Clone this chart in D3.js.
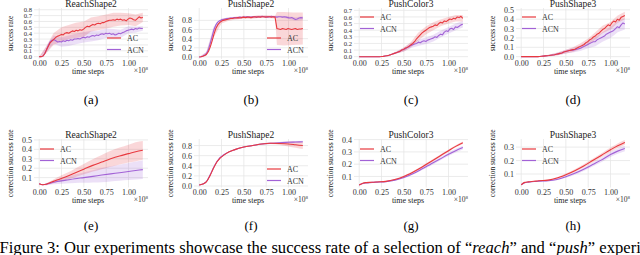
<!DOCTYPE html>
<html><head><meta charset="utf-8">
<script src="https://cdn.jsdelivr.net/npm/d3@7"></script>
<style>
body{margin:0;background:#fff;}
svg{display:block;}
svg text{font-family:"Liberation Serif","Times New Roman",serif;}
</style>
</head><body>
<svg id="c" width="640" height="255"></svg>
<script>
// ---------- data ----------
const titles = ["ReachShape2","PushShape2","PushColor3","PushShape3","ReachShape2","PushShape2","PushColor3","PushShape3"];
const subLabels = ["(a)","(b)","(c)","(d)","(e)","(f)","(g)","(h)"];
const seriesNames = ["AC","ACN"];
const xTickVals = [0,0.25,0.5,0.75,1.0];
const caption = ["Figure 3: Our experiments showcase the success rate of a selection of \u201c","reach","\u201d and \u201c","push","\u201d experiments"];

// time steps (x 1e8) of the logged evaluations, top row
const tFine = d3.range(57).map(i => i * 1.16 / 56);
const tBand = [0,0.08,0.16,0.25,0.33,0.41,0.5,0.58,0.66,0.75,0.83,0.91,1.0,1.08,1.16];
const tBandB = [0,0.08,0.16,0.25,0.33,0.41,0.5,0.58,0.66,0.75,0.85,0.87,0.95,1.05,1.16];
// bottom row
const t2 = [0,0.04,0.08,0.12,0.16,0.2,0.3,0.4,0.5,0.6,0.7,0.8,0.9,1.0,1.08,1.16];

// (a) ReachShape2 success rate
const aAC = [0,0,0.01,0.05,0.12,0.18,0.24,0.27,0.30,0.33,0.35,0.36,0.38,0.37,0.40,0.41,0.40,0.42,0.44,0.43,0.45,0.44,0.46,0.45,0.47,0.50,0.52,0.51,0.53,0.55,0.54,0.56,0.57,0.56,0.58,0.58,0.60,0.61,0.62,0.62,0.63,0.62,0.64,0.63,0.64,0.62,0.63,0.61,0.64,0.66,0.65,0.63,0.62,0.65,0.68,0.66,0.67];
const aACN = [0,0,0.01,0.05,0.12,0.20,0.26,0.28,0.29,0.27,0.25,0.26,0.25,0.27,0.26,0.28,0.27,0.29,0.28,0.30,0.30,0.31,0.30,0.32,0.33,0.32,0.34,0.33,0.35,0.36,0.35,0.37,0.36,0.38,0.39,0.38,0.40,0.39,0.40,0.38,0.39,0.37,0.38,0.40,0.39,0.41,0.42,0.44,0.45,0.46,0.47,0.46,0.48,0.47,0.49,0.48,0.48];
const aACLo = [0,0.06,0.2,0.26,0.3,0.32,0.34,0.43,0.45,0.48,0.51,0.53,0.54,0.52,0.59];
const aACHi = [0,0.18,0.4,0.5,0.54,0.58,0.6,0.67,0.69,0.72,0.75,0.75,0.74,0.72,0.75];
const aACNLo = [0,0.07,0.22,0.17,0.18,0.21,0.24,0.26,0.28,0.32,0.31,0.32,0.40,0.41,0.44];
const aACNHi = [0,0.17,0.36,0.33,0.36,0.39,0.42,0.44,0.44,0.48,0.47,0.46,0.52,0.51,0.52];

// (b) PushShape2 success rate
const bAC = [0,0.005,0.015,0.03,0.06,0.12,0.22,0.35,0.5,0.62,0.7,0.75,0.78,0.8,0.81,0.82,0.83,0.84,0.84,0.85,0.85,0.86,0.85,0.86,0.87,0.86,0.87,0.87,0.86,0.87,0.88,0.87,0.88,0.87,0.88,0.88,0.87,0.88,0.88,0.87,0.88,0.87,0.62,0.61,0.6,0.62,0.61,0.6,0.62,0.61,0.6,0.61,0.62,0.6,0.61,0.61,0.62];
const bACN = [0,0.005,0.02,0.04,0.08,0.16,0.30,0.45,0.60,0.70,0.76,0.79,0.81,0.82,0.83,0.84,0.84,0.85,0.85,0.86,0.86,0.86,0.87,0.86,0.87,0.87,0.88,0.87,0.87,0.88,0.88,0.87,0.88,0.88,0.89,0.88,0.88,0.87,0.88,0.89,0.88,0.88,0.87,0.88,0.88,0.87,0.88,0.87,0.86,0.85,0.86,0.84,0.82,0.83,0.85,0.86,0.85];
const bACLo = [0,0.02,0.42,0.73,0.79,0.82,0.84,0.83,0.85,0.85,0.84,0.26,0.25,0.26,0.27];
const bACHi = [0,0.10,0.58,0.83,0.87,0.88,0.9,0.89,0.91,0.91,0.9,0.98,0.98,0.97,0.97];
const bACNLo = [0,0.05,0.54,0.78,0.82,0.84,0.85,0.85,0.86,0.86,0.86,0.86,0.83,0.79,0.81];
const bACNHi = [0,0.11,0.66,0.84,0.86,0.88,0.89,0.89,0.9,0.9,0.9,0.9,0.89,0.87,0.89];

// (c) PushColor3 success rate
const cAC = [0,0,0,0,0,0,0,0,0,0,0,0,0.002,0.005,0.01,0.015,0.02,0.03,0.04,0.05,0.06,0.07,0.08,0.10,0.11,0.13,0.14,0.16,0.18,0.20,0.23,0.27,0.30,0.33,0.36,0.38,0.40,0.42,0.44,0.45,0.46,0.48,0.47,0.50,0.52,0.51,0.54,0.53,0.55,0.57,0.56,0.58,0.57,0.60,0.59,0.61,0.58];
const cACN = [0,0,0,0,0,0,0,0,0,0,0,0,0.002,0.005,0.01,0.015,0.02,0.03,0.04,0.05,0.06,0.07,0.08,0.10,0.11,0.12,0.14,0.15,0.17,0.18,0.19,0.20,0.22,0.21,0.23,0.24,0.23,0.25,0.26,0.27,0.28,0.30,0.29,0.32,0.34,0.33,0.37,0.39,0.38,0.42,0.43,0.41,0.45,0.44,0.46,0.48,0.49];
const cACLo = [0,0,0,0.002,0.015,0.045,0.08,0.14,0.24,0.34,0.40,0.46,0.50,0.53,0.53];
const cACHi = [0,0,0,0.002,0.025,0.075,0.14,0.22,0.36,0.46,0.52,0.56,0.60,0.63,0.63];
const cACNLo = [0,0,0,0.002,0.015,0.045,0.08,0.13,0.16,0.19,0.23,0.29,0.35,0.4,0.44];
const cACNHi = [0,0,0,0.002,0.025,0.075,0.14,0.21,0.26,0.29,0.33,0.39,0.45,0.5,0.54];

// (d) PushShape3 success rate
const dAC = [0,0,0,0,0,0,0,0,0,0,0.002,0.004,0.006,0.008,0.01,0.012,0.015,0.018,0.02,0.025,0.03,0.035,0.04,0.05,0.055,0.06,0.065,0.07,0.075,0.08,0.09,0.10,0.11,0.12,0.13,0.15,0.16,0.18,0.19,0.21,0.22,0.24,0.25,0.27,0.29,0.30,0.32,0.34,0.33,0.36,0.38,0.37,0.40,0.39,0.42,0.43,0.44];
const dACN = [0,0,0,0,0,0,0,0,0,0,0.002,0.004,0.006,0.008,0.01,0.012,0.015,0.018,0.02,0.025,0.03,0.035,0.04,0.05,0.055,0.06,0.065,0.07,0.07,0.075,0.08,0.085,0.09,0.10,0.11,0.12,0.13,0.14,0.15,0.16,0.16,0.18,0.19,0.20,0.21,0.22,0.24,0.25,0.26,0.27,0.28,0.30,0.32,0.31,0.34,0.36,0.35];
const dACLo = [0,0,0,0.001,0.005,0.015,0.035,0.05,0.08,0.125,0.18,0.25,0.29,0.36,0.40];
const dACHi = [0,0,0,0.011,0.025,0.045,0.075,0.1,0.14,0.195,0.26,0.33,0.37,0.44,0.48];
const dACNLo = [0,0,0,0.001,0.005,0.015,0.035,0.045,0.06,0.09,0.11,0.16,0.2,0.26,0.29];
const dACNHi = [0,0,0,0.011,0.025,0.045,0.075,0.095,0.12,0.17,0.21,0.26,0.32,0.38,0.41];

// (e)-(h) correction success rate: mean and spread
const eAC = [0.035,0.025,0.03,0.045,0.06,0.075,0.11,0.15,0.19,0.23,0.265,0.3,0.33,0.355,0.375,0.39];
const eACsd = [0.005,0.005,0.01,0.015,0.02,0.025,0.035,0.045,0.055,0.065,0.075,0.085,0.09,0.095,0.1,0.1];
const eACN = [0.035,0.025,0.03,0.04,0.05,0.058,0.073,0.088,0.1,0.113,0.127,0.14,0.152,0.165,0.175,0.185];
const eACNsd = [0.005,0.005,0.01,0.015,0.02,0.025,0.035,0.045,0.055,0.065,0.075,0.08,0.085,0.09,0.095,0.1];
const fAC = [0.02,0.04,0.08,0.2,0.35,0.48,0.64,0.72,0.77,0.8,0.83,0.845,0.84,0.83,0.815,0.8];
const fACsd = [0.005,0.01,0.01,0.01,0.01,0.01,0.01,0.01,0.01,0.01,0.01,0.015,0.03,0.05,0.06,0.07];
const fACN = [0.02,0.04,0.085,0.21,0.36,0.49,0.645,0.72,0.77,0.8,0.83,0.845,0.855,0.865,0.87,0.875];
const fACNsd = [0.005,0.01,0.01,0.01,0.01,0.01,0.01,0.01,0.01,0.01,0.01,0.01,0.015,0.02,0.02,0.02];
const gAC = [0.03,0.045,0.05,0.052,0.053,0.055,0.06,0.075,0.1,0.135,0.175,0.22,0.265,0.31,0.345,0.375];
const gACsd = [0.003,0.003,0.003,0.003,0.003,0.004,0.005,0.006,0.007,0.008,0.009,0.01,0.01,0.01,0.01,0.01];
const gACN = [0.03,0.042,0.047,0.05,0.052,0.054,0.058,0.07,0.092,0.122,0.16,0.2,0.24,0.28,0.31,0.335];
const gACNsd = [0.003,0.003,0.003,0.003,0.003,0.004,0.005,0.006,0.007,0.008,0.01,0.012,0.013,0.014,0.015,0.015];
const hAC = [0.02,0.038,0.042,0.045,0.047,0.05,0.055,0.07,0.095,0.125,0.16,0.2,0.24,0.28,0.31,0.335];
const hACsd = [0.003,0.003,0.003,0.003,0.003,0.004,0.005,0.006,0.008,0.01,0.012,0.014,0.015,0.016,0.017,0.017];
const hACN = [0.02,0.036,0.04,0.043,0.045,0.047,0.05,0.06,0.08,0.105,0.135,0.17,0.205,0.245,0.27,0.29];
const hACNsd = [0.003,0.003,0.003,0.003,0.003,0.004,0.005,0.006,0.008,0.01,0.012,0.014,0.016,0.018,0.019,0.02];

// y ticks per panel
const yTicksA = [0,0.1,0.2,0.3,0.4,0.5,0.6,0.7,0.8];
const yTicksB = [0,0.2,0.4,0.6,0.8];
const yTicksC = [0,0.1,0.2,0.3,0.4,0.5,0.6,0.7];
const yTicksD = [0,0.1,0.2,0.3,0.4,0.5];
const yTicksE = [0.1,0.2,0.3,0.4,0.5];
const yTicksF = [0,0.2,0.4,0.6,0.8];
const yTicksG = [0.1,0.2,0.3,0.4];
const yTicksH = [0.1,0.2,0.3];

// ---------- layout / style ----------
const FONT = "Liberation Serif";
const COLORS = ["#e8393f","#a262d6"];
const colOff = [0,160,320,482];
const rows = [{top:8,bottom:59},{top:139,bottom:187.5}];
const PL = 34, PR = 148;

function fineSeries(ys, x){ return ys.map((v,i)=>({x:x[i], y:v})); }
function bandLH(x, lo, hi){ return x.map((v,i)=>({x:v, lo:lo[i], hi:hi[i]})); }
function bandSd(x, m, sd){ return x.map((v,i)=>({x:v, lo:m[i]-sd[i], hi:m[i]+sd[i]})); }

const panels = [
 {row:0,col:0,yd:[-0.04,0.83],yt:yTicksA,leg:"lr",ylab:"success rate",
  lines:[fineSeries(aAC,tFine),fineSeries(aACN,tFine)],bands:[bandLH(tBand,aACLo,aACHi),bandLH(tBand,aACNLo,aACNHi)]},
 {row:0,col:1,yd:[-0.045,1.07],yt:yTicksB,leg:"lr",ylab:"success rate",
  lines:[fineSeries(bAC,tFine),fineSeries(bACN,tFine)],bands:[bandLH(tBandB,bACLo,bACHi),bandLH(tBand,bACNLo,bACNHi)]},
 {row:0,col:2,yd:[-0.035,0.735],yt:yTicksC,leg:"ul",ylab:"success rate",
  lines:[fineSeries(cAC,tFine),fineSeries(cACN,tFine)],bands:[bandLH(tBand,cACLo,cACHi),bandLH(tBand,cACNLo,cACNHi)]},
 {row:0,col:3,yd:[-0.025,0.52],yt:yTicksD,leg:"ul",ylab:"success rate",
  lines:[fineSeries(dAC,tFine),fineSeries(dACN,tFine)],bands:[bandLH(tBand,dACLo,dACHi),bandLH(tBand,dACNLo,dACNHi)]},
 {row:1,col:0,yd:[-0.005,0.51],yt:yTicksE,leg:"ul",ylab:"correction success rate",smooth:true,
  lines:[fineSeries(eAC,t2),fineSeries(eACN,t2)],bands:[bandSd(t2,eAC,eACsd),bandSd(t2,eACN,eACNsd)]},
 {row:1,col:1,yd:[-0.03,0.93],yt:yTicksF,leg:"lr",ylab:"correction success rate",smooth:true,
  lines:[fineSeries(fAC,t2),fineSeries(fACN,t2)],bands:[bandSd(t2,fAC,fACsd),bandSd(t2,fACN,fACNsd)]},
 {row:1,col:2,yd:[0.01,0.405],yt:yTicksG,leg:"ul",ylab:"correction success rate",smooth:true,
  lines:[fineSeries(gAC,t2),fineSeries(gACN,t2)],bands:[bandSd(t2,gAC,gACsd),bandSd(t2,gACN,gACNsd)]},
 {row:1,col:3,yd:[0.0,0.36],yt:yTicksH,leg:"ul",ylab:"correction success rate",smooth:true,
  lines:[fineSeries(hAC,t2),fineSeries(hACN,t2)],bands:[bandSd(t2,hAC,hACsd),bandSd(t2,hACN,hACNsd)]}
];

const svg = d3.select("#c");
svg.append("rect").attr("width",640).attr("height",255).attr("fill","#fff");
const defs = svg.append("defs");

panels.forEach((p,pi)=>{
  const L = PL + colOff[p.col], R = PR + colOff[p.col];
  const T = rows[p.row].top, B = rows[p.row].bottom;
  const x = d3.scaleLinear().domain([-0.058,1.218]).range([L,R]);
  const y = d3.scaleLinear().domain(p.yd).range([B,T]);
  const g = svg.append("g");
  const cid = "clip"+pi;
  defs.append("clipPath").attr("id",cid).append("rect").attr("x",L).attr("y",T).attr("width",R-L).attr("height",B-T);

  // grid
  g.append("g").selectAll("line").data(xTickVals).join("line")
    .attr("x1",d=>x(d)).attr("x2",d=>x(d)).attr("y1",T).attr("y2",B)
    .attr("stroke","#e6e6e6").attr("stroke-width",0.8);
  g.append("g").selectAll("line").data(p.yt).join("line")
    .attr("x1",L).attr("x2",R).attr("y1",d=>y(d)).attr("y2",d=>y(d))
    .attr("stroke","#e6e6e6").attr("stroke-width",0.8);

  // axes
  const xa = g.append("g").attr("transform",`translate(0,${B})`)
    .call(d3.axisBottom(x).tickValues(xTickVals).tickSize(0).tickPadding(1.5).tickFormat(d3.format(".2f")));
  const ya = g.append("g").attr("transform",`translate(${L},0)`)
    .call(d3.axisLeft(y).tickValues(p.yt).tickSize(0).tickPadding(2).tickFormat(d3.format(".1f")));
  [xa,ya].forEach(a=>{
    a.attr("font-family",FONT);
    a.select(".domain").remove();
    a.selectAll("text").attr("font-family",FONT).attr("fill","#333");
  });
  xa.selectAll("text").attr("font-size",8);
  ya.selectAll("text").attr("font-size",p.yt.length>7?6.6:8);

  // bands and lines
  const curve = p.smooth ? d3.curveMonotoneX : d3.curveLinear;
  const area = d3.area().x(d=>x(d.x)).y0(d=>y(d.lo)).y1(d=>y(d.hi)).curve(curve);
  const line = d3.line().x(d=>x(d.x)).y(d=>y(d.y)).curve(curve);
  const dg = g.append("g").attr("clip-path",`url(#${cid})`);
  [1,0].forEach(si=>{
    dg.append("path").attr("d",area(p.bands[si])).attr("fill",COLORS[si]).attr("fill-opacity",0.2);
  });
  [1,0].forEach(si=>{
    dg.append("path").attr("d",line(p.lines[si])).attr("fill","none").attr("stroke",COLORS[si]).attr("stroke-width",1.1).attr("stroke-linejoin","round");
  });

  // title
  g.append("text").attr("x",(L+R)/2).attr("y",T-0.8).attr("text-anchor","middle")
    .attr("font-family",FONT).attr("font-size",9.5).attr("fill","#222").text(titles[pi]);
  // x label
  g.append("text").attr("x",(L+R)/2 - 3).attr("y",B+15).attr("text-anchor","middle")
    .attr("font-family",FONT).attr("font-size",8).attr("fill","#222").text("time steps");
  // offset text
  const ot = g.append("text").attr("x",R).attr("y",B+14).attr("text-anchor","end")
    .attr("font-family",FONT).attr("font-size",7.5).attr("fill","#333");
  ot.append("tspan").text("\u00d710");
  ot.append("tspan").attr("dy",-3).attr("font-size",5).text("8");
  // y label
  g.append("text").attr("transform",`translate(${L-21},${(T+B)/2}) rotate(-90)`)
    .attr("text-anchor","middle").attr("font-family",FONT).attr("font-size",7.5).attr("fill","#222").text(p.ylab);

  // legend
  let lx, ly;
  if (p.leg === "lr") { lx = R - 41; ly = T + 30; }
  else { lx = L + 6; ly = T + (p.row === 0 ? 9 : 10); }
  seriesNames.forEach((n,si)=>{
    const yy = ly + si*11.5;
    g.append("line").attr("x1",lx).attr("x2",lx+14).attr("y1",yy).attr("y2",yy)
      .attr("stroke",COLORS[si]).attr("stroke-width",1.2);
    g.append("text").attr("x",lx+20).attr("y",yy+3).attr("font-family",FONT).attr("font-size",8).attr("fill","#333").text(n);
  });

  // subfigure label
  svg.append("text").attr("x",(L+R)/2).attr("y",p.row===0?104:230).attr("text-anchor","middle")
    .attr("font-family",FONT).attr("font-size",13).attr("fill","#000").text(subLabels[pi]);
});

// caption
const cap = svg.append("text").attr("x",-0.5).attr("y",253).attr("font-family",FONT).attr("font-size",16.6).attr("fill","#000");
caption.forEach((s,i)=>{
  const ts = cap.append("tspan").text(s);
  if (i===1 || i===3) ts.attr("font-style","italic");
});
</script>
</body></html>
